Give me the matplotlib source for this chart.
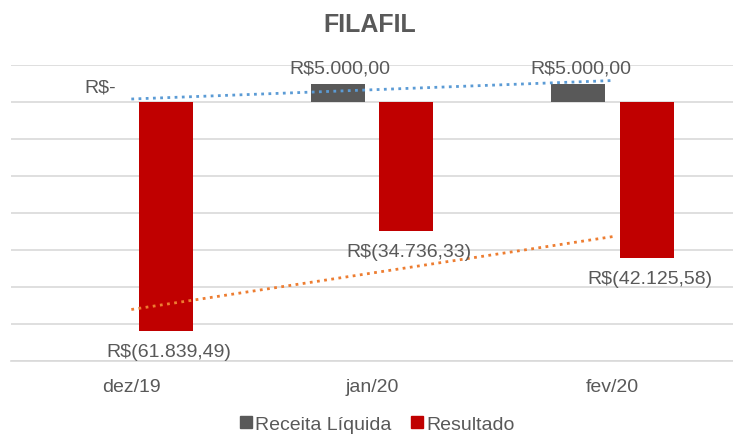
import numpy as np
import matplotlib.pyplot as plt
from matplotlib.patches import Patch

plt.rcParams['font.family'] = ['Liberation Sans', 'DejaVu Sans']

# dados do grafico
meses = ['dez/19', 'jan/20', 'fev/20']
receita = [0.0, 5000.0, 5000.0]
resultado = [-61839.49, -34736.33, -42125.58]
rotulos_receita = ['R$-', 'R$5.000,00', 'R$5.000,00']
rotulos_resultado = ['R$(61.839,49)', 'R$(34.736,33)', 'R$(42.125,58)']

cinza_txt = '#595959'
cor_receita = '#595959'
cor_resultado = '#C00000'

fig = plt.figure(figsize=(7.33, 4.35), dpi=100)
ax = fig.add_axes([0.015, 0.168, 0.985, 0.68])

x = np.arange(len(meses))
largura = 0.224
desloc = 0.143

ax.bar(x - desloc, receita, largura, color=cor_receita, zorder=3)
ax.bar(x + desloc, resultado, largura, color=cor_resultado, zorder=3)

# linhas de tendencia (regressao linear)
for serie, cor in [(receita, '#5B9BD5'), (resultado, '#ED7D31')]:
    a, b = np.polyfit(x, serie, 1)
    ax.plot(x, a * x + b, linestyle=(0, (1, 1.6)), color=cor, lw=2, zorder=4)

# rotulos de dados
for i in range(len(meses)):
    ax.annotate(rotulos_receita[i], (x[i] - desloc, receita[i]), xytext=(2, 5),
                textcoords='offset points', ha='center', va='bottom',
                fontsize=14, color=cinza_txt, zorder=5)
    ax.annotate(rotulos_resultado[i], (x[i] + desloc, resultado[i]), xytext=(2, -9),
                textcoords='offset points', ha='center', va='top',
                fontsize=14, color=cinza_txt, zorder=5)

ax.set_xlim(-0.5, 2.5)
ax.set_ylim(-70000, 10000)
ax.set_yticks(np.arange(-70000, 10001, 10000))
ax.set_yticklabels([])
ax.tick_params(axis='y', length=0)
ax.tick_params(axis='x', length=0, labelsize=14, labelcolor=cinza_txt, pad=12)
ax.set_xticks(x)
ax.set_xticklabels(meses)
ax.grid(axis='y', color='#D9D9D9', lw=1.2, zorder=0)
for s in ['top', 'right', 'left']:
    ax.spines[s].set_visible(False)
ax.spines['bottom'].set_color('#D9D9D9')
ax.spines['bottom'].set_linewidth(1.2)

fig.text(0.505, 0.942, 'FILAFIL', ha='center', va='center', fontsize=18,
         fontweight='bold', color=cinza_txt)

handles = [Patch(color=cor_receita, label='Receita Líquida'),
           Patch(color=cor_resultado, label='Resultado')]
fig.legend(handles=handles, loc='center', bbox_to_anchor=(0.515, 0.022), ncol=2,
           frameon=False, fontsize=14, labelcolor=cinza_txt, handlelength=0.6,
           handleheight=0.6, handletextpad=0.2, columnspacing=1.0)

fig.savefig('out.png', dpi=100)
